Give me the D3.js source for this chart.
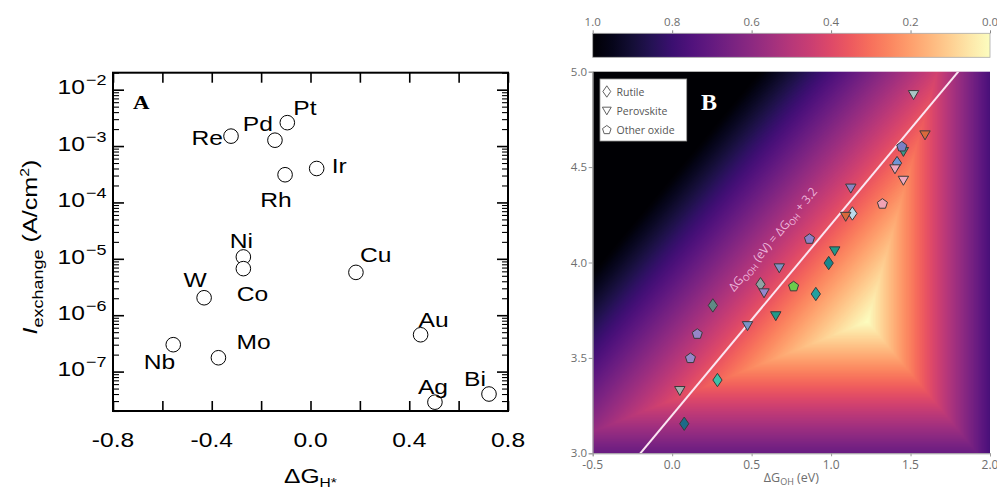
<!DOCTYPE html>
<html>
<head>
<meta charset="utf-8">
<script src="https://cdn.jsdelivr.net/npm/d3@7"></script>
<style>
  body { margin: 0; background: #fff; }
  svg { display: block; }
</style>
</head>
<body>
<div id="chart"></div>
<script>
// ---------- panel A: exchange current vs hydrogen binding energy ----------
const metals = ["Re", "Pd", "Pt", "Rh", "Ir", "Ni", "Co", "W", "Cu", "Au", "Nb", "Mo", "Ag", "Bi"]
const dGH = [-0.322, -0.144, -0.094, -0.103, 0.025, -0.272, -0.272, -0.431, 0.184, 0.446, -0.556, -0.373, 0.504, 0.723]
const iExchange = [1.5e-3, 1.27e-3, 2.6e-3, 3.1e-4, 4.0e-4, 1.08e-5, 6.7e-6, 2.04e-6, 5.75e-6, 4.5e-7, 3.0e-7, 1.76e-7, 2.87e-8, 4.0e-8]
const xTickLabelsA = [-0.8, -0.4, 0.0, 0.4, 0.8]
const yDecadesA = [-7, -6, -5, -4, -3, -2]

// ---------- panel B: OER activity map ----------
const oxideType = ["P", "P", "P", "O", "R", "P", "P", "P", "O", "R", "P", "O", "P", "R", "P", "R", "P", "O", "R", "P", "R", "P", "O", "O", "R", "P", "R"]
const dGOH = [1.519, 1.591, 1.455, 1.445, 1.415, 1.402, 1.455, 1.124, 1.323, 1.134, 1.092, 0.864, 1.023, 0.985, 0.674, 0.556, 0.578, 0.764, 0.904, 0.652, 0.256, 0.474, 0.158, 0.115, 0.285, 0.048, 0.076]
const dGOOH = [4.879, 4.668, 4.581, 4.607, 4.521, 4.490, 4.430, 4.389, 4.307, 4.257, 4.241, 4.123, 4.060, 3.997, 3.971, 3.886, 3.840, 3.874, 3.835, 3.720, 3.775, 3.668, 3.625, 3.498, 3.384, 3.328, 3.155]
const markerFill = ["#a9c6c6", "#d9693b", "#3a9a8a", "#7b7fc4", "#6f95d6", "#f0a8c0", "#f2a9bf", "#8a86c4", "#f0a2b4", "#bcd8ea", "#d9693b", "#8d7fc6", "#1f9a8a", "#17878e", "#7e93c6", "#8fa3a3", "#9486cc", "#6ccc4c", "#21a0a0", "#1f9a8a", "#5f8a85", "#7a94c8", "#9686c8", "#9686c8", "#3dc0a8", "#a3adad", "#1c6a88"]
const legendTypes = ["R", "P", "O"]
const legendNames = ["Rutile", "Perovskite", "Other oxide"]
const xTicksB = [-0.5, 0.0, 0.5, 1.0, 1.5, 2.0]
const yTicksB = [3.0, 3.5, 4.0, 4.5, 5.0]
const colorbarTicks = [1.0, 0.8, 0.6, 0.4, 0.2, 0.0]
const U_EQ = 1.23        // equilibrium potential (V)
const G_TOTAL = 4.92     // total free energy of 2H2O -> O2 (eV)
const SCALING_OFFSET = 3.2

const W = 997, H = 488
const svg = d3.select("#chart").append("svg")
  .attr("width", W)
  .attr("height", H)

const ARIAL = "'Liberation Sans', Arial, sans-serif"
const SANS = "'Open Sans', 'Noto Sans', sans-serif"
const STRETCH = 1.2

/******************************** Panel A ********************************/
const PA = { LEFT: 113, RIGHT: 508, TOP: 72.7, BOTTOM: 411 }
const xA = d3.scaleLinear().domain([-0.8, 0.8]).range([PA.LEFT, PA.RIGHT])
const yA = d3.scaleLog().domain([2e-8, 2e-2]).range([PA.BOTTOM, PA.TOP])

const gA = svg.append("g")

// ticks (all pointing inward)
const majorX = d3.range(-0.8, 0.81, 0.2).map(v => +v.toFixed(1))
const majorY = yDecadesA.map(e => Math.pow(10, e))
const minorY = yA.ticks().filter(v => !majorY.some(m => Math.abs(m - v) / m < 1e-6))

function tickGroup(axis) {
  const g = gA.append("g").call(axis)
  g.select(".domain").remove()
  g.selectAll("text").remove()
  g.selectAll("line").attr("stroke", "#000").attr("stroke-width", 1.6)
  return g
}
tickGroup(d3.axisBottom(xA).tickValues(majorX).tickSize(-10))
  .attr("transform", `translate(0, ${PA.BOTTOM})`)
tickGroup(d3.axisTop(xA).tickValues(majorX).tickSize(-10))
  .attr("transform", `translate(0, ${PA.TOP})`)
tickGroup(d3.axisLeft(yA).tickValues(majorY).tickSize(-11))
  .attr("transform", `translate(${PA.LEFT}, 0)`)
tickGroup(d3.axisRight(yA).tickValues(majorY).tickSize(-11))
  .attr("transform", `translate(${PA.RIGHT}, 0)`)
tickGroup(d3.axisLeft(yA).tickValues(minorY).tickSize(-6))
  .attr("transform", `translate(${PA.LEFT}, 0)`)
  .selectAll("line").attr("stroke-width", 1.1)
tickGroup(d3.axisRight(yA).tickValues(minorY).tickSize(-6))
  .attr("transform", `translate(${PA.RIGHT}, 0)`)
  .selectAll("line").attr("stroke-width", 1.1)

// frame
gA.append("rect")
  .attr("x", PA.LEFT).attr("y", PA.TOP)
  .attr("width", PA.RIGHT - PA.LEFT).attr("height", PA.BOTTOM - PA.TOP)
  .attr("fill", "none").attr("stroke", "#000").attr("stroke-width", 2)

// x tick labels
gA.selectAll(".xlabA").data(xTickLabelsA).join("text")
  .attr("transform", d => `translate(${xA(d)}, 446.5) scale(${STRETCH}, 1)`)
  .attr("text-anchor", "middle")
  .attr("font-family", ARIAL).attr("font-size", 20.5)
  .text(d => d.toFixed(1))

// y tick labels 10^n
const yLab = gA.selectAll(".ylabA").data(yDecadesA).join("text")
  .attr("transform", d => `translate(106.5, ${yA(Math.pow(10, d)) + 4.8}) scale(${STRETCH}, 1)`)
  .attr("text-anchor", "end")
  .attr("font-family", ARIAL).attr("font-size", 20.5)
yLab.append("tspan").text("10")
yLab.append("tspan").attr("dx", 1).attr("dy", -9).attr("font-size", 15).text(d => "\u2212" + Math.abs(d))

// axis titles
const xt = gA.append("text")
  .attr("transform", `translate(${(PA.LEFT + PA.RIGHT) / 2}, 482.5) scale(${STRETCH}, 1)`)
  .attr("text-anchor", "middle")
  .attr("font-family", ARIAL).attr("font-size", 20.5)
xt.append("tspan").text("ΔG")
xt.append("tspan").attr("dy", 4).attr("font-size", 13).text("H*")

const yt = gA.append("text")
  .attr("transform", `translate(37, 247) rotate(-90) scale(${STRETCH}, 1)`)
  .attr("text-anchor", "middle")
  .attr("font-family", ARIAL).attr("font-size", 21)
yt.append("tspan").attr("font-style", "italic").text("I")
yt.append("tspan").attr("dy", 6).attr("font-size", 15).text("exchange")
yt.append("tspan").attr("dy", -6).text(" (A/cm")
yt.append("tspan").attr("dy", -8).attr("font-size", 13).text("2")
yt.append("tspan").attr("dy", 8).text(")")

gA.append("text")
  .attr("transform", `translate(133, 109) scale(${STRETCH}, 1)`)
  .attr("font-family", "'Liberation Serif', 'Times New Roman', serif")
  .attr("font-weight", "bold").attr("font-size", 19)
  .text("A")

// points
const metalData = metals.map((m, i) => ({ name: m, x: dGH[i], y: iExchange[i] }))
gA.selectAll("circle.metal").data(metalData).join("circle")
  .attr("class", "metal")
  .attr("cx", d => xA(d.x))
  .attr("cy", d => yA(d.y))
  .attr("r", 7.3)
  .attr("fill", "#fff")
  .attr("stroke", "#000")
  .attr("stroke-width", 1)

// label offsets from each point: [dx, dy, anchor]
const labelPlacement = {
  Re: [-8, 8.5, "end"], Pd: [-2, -9, "end"], Pt: [6, -7.7, "start"], Rh: [-9, 32, "middle"],
  Ir: [15, 5, "start"], Ni: [-2, -9, "middle"], Co: [9, 32, "middle"], W: [-9, -10.6, "middle"],
  Cu: [4, -10, "start"], Au: [-2, -8, "start"], Nb: [2, 24, "end"], Mo: [18, -8.6, "start"],
  Ag: [-17, -8.4, "start"], Bi: [-25, -8.3, "start"]
}
gA.selectAll("text.metal").data(metalData).join("text")
  .attr("class", "metal")
  .attr("transform", d => {
    const p = labelPlacement[d.name]
    return `translate(${xA(d.x) + p[0]}, ${yA(d.y) + p[1]}) scale(${STRETCH}, 1)`
  })
  .attr("text-anchor", d => labelPlacement[d.name][2])
  .attr("font-family", ARIAL).attr("font-size", 20.5)
  .text(d => d.name)

/******************************** Panel B ********************************/
const PB = { LEFT: 592.7, RIGHT: 990, TOP: 71.7, BOTTOM: 453.3 }
const CB = { TOP: 33.3, BOTTOM: 57.3 }
const xB = d3.scaleLinear().domain([-0.5, 2.0]).range([PB.LEFT, PB.RIGHT])
const yB = d3.scaleLinear().domain([3.0, 5.0]).range([PB.BOTTOM, PB.TOP])
const color = d3.scaleSequential(t => d3.interpolateMagma(1 - t)).domain([0, 1]).clamp(true)
const GRAY = "#6e6e6e"

function overpotential(gOH, gOOH) {
  // OER steps with the O* intermediate placed optimally between OH* and OOH*
  return d3.max([gOH, (gOOH - gOH) / 2, G_TOTAL - gOOH]) - U_EQ
}

const gB = svg.append("g")

// heat map
const hmW = Math.round(PB.RIGHT - PB.LEFT), hmH = Math.round(PB.BOTTOM - PB.TOP)
const canvas = document.createElement("canvas")
canvas.width = hmW
canvas.height = hmH
const ctx = canvas.getContext("2d")
const img = ctx.createImageData(hmW, hmH)
for (let j = 0; j < hmH; j++) {
  const gOOH = yB.invert(PB.TOP + (j + 0.5) * (PB.BOTTOM - PB.TOP) / hmH)
  for (let i = 0; i < hmW; i++) {
    const gOH = xB.invert(PB.LEFT + (i + 0.5) * (PB.RIGHT - PB.LEFT) / hmW)
    const c = d3.rgb(color(overpotential(gOH, gOOH)))
    const k = (j * hmW + i) * 4
    img.data[k] = c.r; img.data[k + 1] = c.g; img.data[k + 2] = c.b; img.data[k + 3] = 255
  }
}
ctx.putImageData(img, 0, 0)
gB.append("image")
  .attr("x", PB.LEFT).attr("y", PB.TOP)
  .attr("width", PB.RIGHT - PB.LEFT).attr("height", PB.BOTTOM - PB.TOP)
  .attr("preserveAspectRatio", "none")
  .attr("href", canvas.toDataURL())

svg.append("clipPath").attr("id", "clipB")
  .append("rect")
  .attr("x", PB.LEFT).attr("y", PB.TOP)
  .attr("width", PB.RIGHT - PB.LEFT).attr("height", PB.BOTTOM - PB.TOP)

// scaling line
const lineB = d3.line().x(d => xB(d)).y(d => yB(d + SCALING_OFFSET))
gB.append("path")
  .attr("clip-path", "url(#clipB)")
  .attr("d", lineB(xB.domain()))
  .attr("fill", "none")
  .attr("stroke", "#fbe6f2")
  .attr("stroke-width", 2)

// label along the line
const angle = Math.atan2(yB(4) - yB(5), xB(1) - xB(0)) * 180 / Math.PI
const rad = angle * Math.PI / 180
const t0 = 0.54, offs = 31
const lx = xB(t0) - offs * Math.sin(rad), ly = yB(t0 + SCALING_OFFSET) - offs * Math.cos(rad)
const lineText = gB.append("text")
  .attr("transform", `translate(${lx}, ${ly}) rotate(${-angle})`)
  .attr("font-family", SANS).attr("font-size", 12)
  .attr("fill", "#f4c4e6").attr("fill-opacity", 0.9)
lineText.append("tspan").text("ΔG")
lineText.append("tspan").attr("dy", 3).attr("font-size", 8.5).text("OOH")
lineText.append("tspan").attr("dy", -3).text(" (eV) = ΔG")
lineText.append("tspan").attr("dy", 3).attr("font-size", 8.5).text("OH")
lineText.append("tspan").attr("dy", -3).text(" + 3.2")

// marker shapes
const pentagon = d3.range(5).map(k => {
  const a = -Math.PI / 2 + k * 2 * Math.PI / 5
  return [5.3 * Math.cos(a), 5.3 * Math.sin(a)]
})
const shapes = {
  R: "M0,-6.7L4.6,0L0,6.7L-4.6,0Z",
  P: "M-5.2,-4.2L5.2,-4.2L0,4.8Z",
  O: "M" + pentagon.map(p => p.join(",")).join("L") + "Z"
}

const oxides = dGOH.map((x, i) => ({ x, y: dGOOH[i], type: oxideType[i], fill: markerFill[i] }))
gB.selectAll("path.oxide").data(oxides).join("path")
  .attr("class", "oxide")
  .attr("transform", d => `translate(${xB(d.x)}, ${yB(d.y)})`)
  .attr("d", d => shapes[d.type])
  .attr("fill", d => d.fill)
  .attr("stroke", "#3a3a3a")
  .attr("stroke-width", 1)

// axes
const axB = gB.append("g").attr("transform", `translate(0, ${PB.BOTTOM})`)
  .call(d3.axisBottom(xB).tickValues(xTicksB).tickSize(3).tickFormat(""))
const ayB = gB.append("g").attr("transform", `translate(${PB.LEFT}, 0)`)
  .call(d3.axisLeft(yB).tickValues(yTicksB).tickSize(4).tickFormat(""))
axB.selectAll("path, line").attr("stroke", "#9a9a9a")
ayB.selectAll("path, line").attr("stroke", "#9a9a9a")

gB.selectAll(".xlabB").data(xTicksB).join("text")
  .attr("x", d => xB(d)).attr("y", 469)
  .attr("text-anchor", "middle")
  .attr("font-family", SANS).attr("font-size", 12).attr("fill", GRAY)
  .text(d => d.toFixed(1))
gB.selectAll(".ylabB").data(yTicksB).join("text")
  .attr("x", 587).attr("y", d => yB(d) + 4)
  .attr("text-anchor", "end")
  .attr("font-family", SANS).attr("font-size", 11.5).attr("fill", GRAY)
  .text(d => d.toFixed(1))

const xtB = gB.append("text")
  .attr("x", (PB.LEFT + PB.RIGHT) / 2).attr("y", 482)
  .attr("text-anchor", "middle")
  .attr("font-family", SANS).attr("font-size", 12.5).attr("fill", GRAY)
xtB.append("tspan").text("ΔG")
xtB.append("tspan").attr("dy", 2.5).attr("font-size", 9).text("OH")
xtB.append("tspan").attr("dy", -2.5).text(" (eV)")

// legend
const lg = gB.append("g")
lg.append("rect")
  .attr("x", 600).attr("y", 79).attr("width", 86.7).attr("height", 62)
  .attr("fill", "#fff").attr("stroke", "#999").attr("stroke-width", 0.8)
const lgRow = d3.scaleLinear().domain([0, 2]).range([91.5, 130])
legendTypes.forEach((t, i) => {
  lg.append("path")
    .attr("transform", `translate(606.8, ${lgRow(i)}) scale(0.85)`)
    .attr("d", shapes[t])
    .attr("fill", "#fff").attr("stroke", "#555").attr("stroke-width", 1.1)
  lg.append("text")
    .attr("x", 616.5).attr("y", lgRow(i) + 4)
    .attr("font-family", SANS).attr("font-size", 10.5).attr("fill", "#555")
    .text(legendNames[i])
})

gB.append("text")
  .attr("x", 701).attr("y", 110)
  .attr("font-family", "'Liberation Serif', 'Times New Roman', serif")
  .attr("font-weight", "bold").attr("font-size", 24).attr("fill", "#fff")
  .text("B")

// colour bar
const cbX = d3.scaleLinear().domain([1, 0]).range([PB.LEFT, PB.RIGHT])
const grad = svg.append("defs").append("linearGradient").attr("id", "cbGrad")
d3.range(0, 1.0001, 0.05).forEach(o => {
  grad.append("stop")
    .attr("offset", o)
    .attr("stop-color", color(cbX.invert(PB.LEFT + o * (PB.RIGHT - PB.LEFT))))
})
gB.append("rect")
  .attr("x", PB.LEFT).attr("y", CB.TOP)
  .attr("width", PB.RIGHT - PB.LEFT).attr("height", CB.BOTTOM - CB.TOP)
  .attr("fill", "url(#cbGrad)")
  .attr("stroke", "#aaa").attr("stroke-width", 0.8)
const acb = gB.append("g").attr("transform", `translate(0, ${CB.TOP})`)
  .call(d3.axisTop(cbX).tickValues(colorbarTicks).tickSize(3).tickFormat(""))
acb.select(".domain").remove()
acb.selectAll("line").attr("stroke", "#888")
gB.selectAll(".cblab").data(colorbarTicks).join("text")
  .attr("x", d => cbX(d)).attr("y", 26)
  .attr("text-anchor", "middle")
  .attr("font-family", SANS).attr("font-size", 11.5).attr("fill", GRAY)
  .text(d => d.toFixed(1))
</script>
</body>
</html>
